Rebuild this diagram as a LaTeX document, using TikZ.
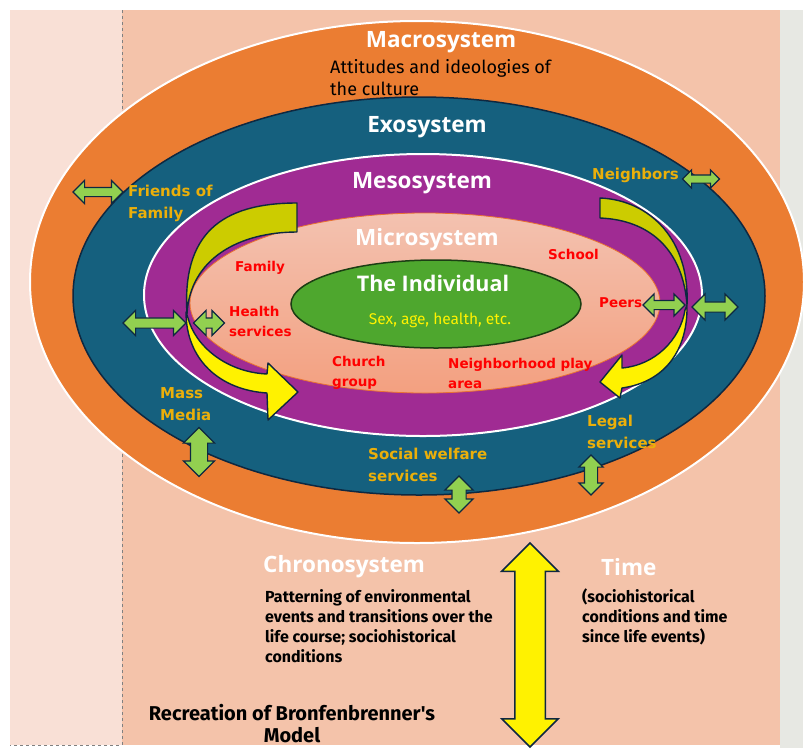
\documentclass[tikz,border=0pt]{standalone}
\usepackage{fontspec}
\usepackage{tikz}
\usetikzlibrary{shapes.arrows}

\newfontfamily\headfont{Open Sans}
\newfontfamily\bodyfont{Fira Sans}
\newfontfamily\tagfont{DejaVu Sans}

\definecolor{pagepink}{RGB}{249,224,214}
\definecolor{pagesalmon}{RGB}{244,195,170}
\definecolor{pagegray}{RGB}{231,232,227}
\definecolor{macroorange}{RGB}{235,125,50}
\definecolor{exoblue}{RGB}{21,96,126}
\definecolor{mesopurple}{RGB}{160,43,147}
\definecolor{microtop}{RGB}{243,194,176}
\definecolor{microbottom}{RGB}{243,160,128}
\definecolor{microline}{RGB}{233,113,50}
\definecolor{indgreen}{RGB}{78,167,46}
\definecolor{indline}{RGB}{28,62,20}
\definecolor{edgenavy}{RGB}{14,40,65}
\definecolor{linkgreen}{RGB}{146,208,80}
\definecolor{turnolive}{RGB}{204,204,0}
\definecolor{goldtext}{RGB}{235,175,10}

\begin{document}
\begin{tikzpicture}[x=1pt, y=-1pt,
  title/.style={text=white, inner sep=0pt, font=\headfont\bfseries\fontsize{22.5}{26}\selectfont},
  settag/.style={text=red, inner sep=0pt, align=left, font=\tagfont\bfseries\fontsize{13.5}{20}\selectfont},
  linktag/.style={text=goldtext, inner sep=0pt, align=left, font=\tagfont\bfseries\fontsize{15}{22}\selectfont},
  note/.style={text=black, inner sep=0pt, align=left, font=\bodyfont\fontsize{18}{22}\selectfont},
  boldnote/.style={text=black, inner sep=0pt, align=left, font=\bodyfont\bfseries\fontsize{16}{20}\selectfont},
  linkarrow/.style={double arrow, draw=edgenavy, fill=linkgreen, line width=1.2pt, text width=0pt},
  turn/.style={draw=edgenavy, line width=1.4pt, line join=round}]
  \useasboundingbox (0,0) rectangle (803,748);

  % page
  \fill [white] (0,0) rectangle (803,748);
  \fill [pagepink] (10,10) rectangle (122,745);
  \fill [pagesalmon] (122,10) rectangle (780,745);
  \fill [pagegray] (780,10) rectangle (803,748);
  \draw [gray, dashed, line width=0.8pt] (122,10) -- (122,745) -- (10,745);

  % nested systems
  \draw [fill=macroorange, draw=white, line width=2pt] (417,282) ellipse [x radius=387, y radius=261];
  \draw [fill=exoblue, draw=edgenavy, line width=1.5pt] (419,296) ellipse [x radius=346, y radius=199];
  \draw [fill=mesopurple, draw=white, line width=2pt] (423,295) ellipse [x radius=279, y radius=141];
  \draw [top color=microtop, bottom color=microbottom, draw=microline, line width=0.8pt] (425,303) ellipse [x radius=235, y radius=90];
  \draw [fill=indgreen, draw=indline, line width=1.5pt] (436,304) ellipse [x radius=145, y radius=44];

  % turning arrows
  \draw [turn, fill=turnolive] (297,203) -- (297,232) .. controls (240,232) and (190,258) .. (187,314)
    .. controls (182,235) and (220,203) .. (297,203) -- cycle;
  \draw [turn, fill=yellow] (186,312) .. controls (186,360) and (220,390) .. (267,393) -- (268,420) -- (298,392)
    -- (268,363) -- (267,374) .. controls (225,372) and (195,345) .. (188,318) -- cycle;
  \draw [turn, fill=turnolive] (600,198) .. controls (650,200) and (690,240) .. (687,305)
    .. controls (683,250) and (650,220) .. (600,218) -- cycle;
  \draw [turn, fill=yellow] (687,305) .. controls (688,350) and (665,382) .. (622,388) -- (620,398) -- (600,382)
    -- (622,355) -- (622,368) .. controls (655,365) and (680,340) .. (685,310) -- cycle;

  % links between systems
  \node (friendsarrow) at (98,192) [linkarrow, minimum height=50pt, inner sep=4pt, double arrow head extend=7pt] {};
  \node (neighborsarrow) at (701,179) [linkarrow, minimum height=37pt, inner sep=3.5pt, double arrow head extend=5pt] {};
  \node (exoleft) at (154.5,323) [linkarrow, minimum height=63pt, inner sep=4.5pt, double arrow head extend=7.5pt] {};
  \node (mesoleft) at (209,323) [linkarrow, minimum height=31pt, inner sep=4.5pt, double arrow head extend=7.5pt] {};
  \node (peersarrow) at (664,305) [linkarrow, minimum height=42pt, inner sep=4pt, double arrow head extend=6.5pt] {};
  \node (exoright) at (715,307) [linkarrow, minimum height=46pt, inner sep=4.5pt, double arrow head extend=8pt] {};
  \node (mediaarrow) at (199,452) [linkarrow, shape border rotate=90, minimum height=49pt, inner sep=8pt, double arrow head extend=7pt] {};
  \node (welfarearrow) at (459,494.5) [linkarrow, shape border rotate=90, minimum height=37pt, inner sep=6.5pt, double arrow head extend=7pt] {};
  \node (legalarrow) at (591,475) [linkarrow, shape border rotate=90, minimum height=40pt, inner sep=6pt, double arrow head extend=5.5pt] {};
  \node (timearrow) at (530,645) [double arrow, draw=edgenavy, fill=yellow, line width=1.5pt, text width=0pt,
    shape border rotate=90, minimum height=204pt, inner sep=14.5pt, double arrow head extend=13pt] {};

  % labels
  \node (macro) at (441,42) [title] {Macrosystem};
  \node (macronote) at (330,78) [note, anchor=west] {Attitudes and ideologies of\\the culture};
  \node (exo) at (427,127) [title] {Exosystem};
  \node (meso) at (422,183) [title] {Mesosystem};
  \node (micro) at (427,240) [title] {Microsystem};
  \node (individual) at (433,283) [title, font=\headfont\bfseries\fontsize{21.5}{26}\selectfont] {The Individual};
  \node (traits) at (440,320) [text=yellow, inner sep=0pt, font=\bodyfont\fontsize{15.5}{18}\selectfont] {Sex, age, health, etc.};

  \node (family) at (235,268) [settag, anchor=west] {Family};
  \node (health) at (229,321) [settag, anchor=west] {Health\\services};
  \node (school) at (548,254) [settag, anchor=west] {School};
  \node (peers) at (599,303) [settag, anchor=west] {Peers};
  \node (church) at (332,373) [settag, anchor=west] {Church\\group};
  \node (play) at (448,373) [settag, anchor=west] {Neighborhood play\\area};

  \node (friends) at (128,203) [linktag, anchor=west] {Friends of\\Family};
  \node (neighbors) at (592,175) [linktag, anchor=west] {Neighbors};
  \node (media) at (160,404) [linktag, anchor=west] {Mass\\Media};
  \node (welfare) at (368,465) [linktag, anchor=west] {Social welfare\\services};
  \node (legal) at (587,432) [linktag, anchor=west] {Legal\\services};

  \node (chrono) at (263,567) [title, anchor=west] {Chronosystem};
  \node (time) at (601,567) [title, anchor=west] {Time};
  \node (chrononote) at (265,626.5) [boldnote, anchor=west] {Patterning of environmental\\events and transitions over the\\life course; sociohistorical\\conditions};
  \node (timenote) at (582,617) [boldnote, anchor=west] {(sociohistorical\\conditions and time\\since life events)};
  \node (caption) at (292,724) [boldnote, align=center, font=\bodyfont\bfseries\fontsize{20}{22}\selectfont] {Recreation of Bronfenbrenner's\\Model};
\end{tikzpicture}
\end{document}
